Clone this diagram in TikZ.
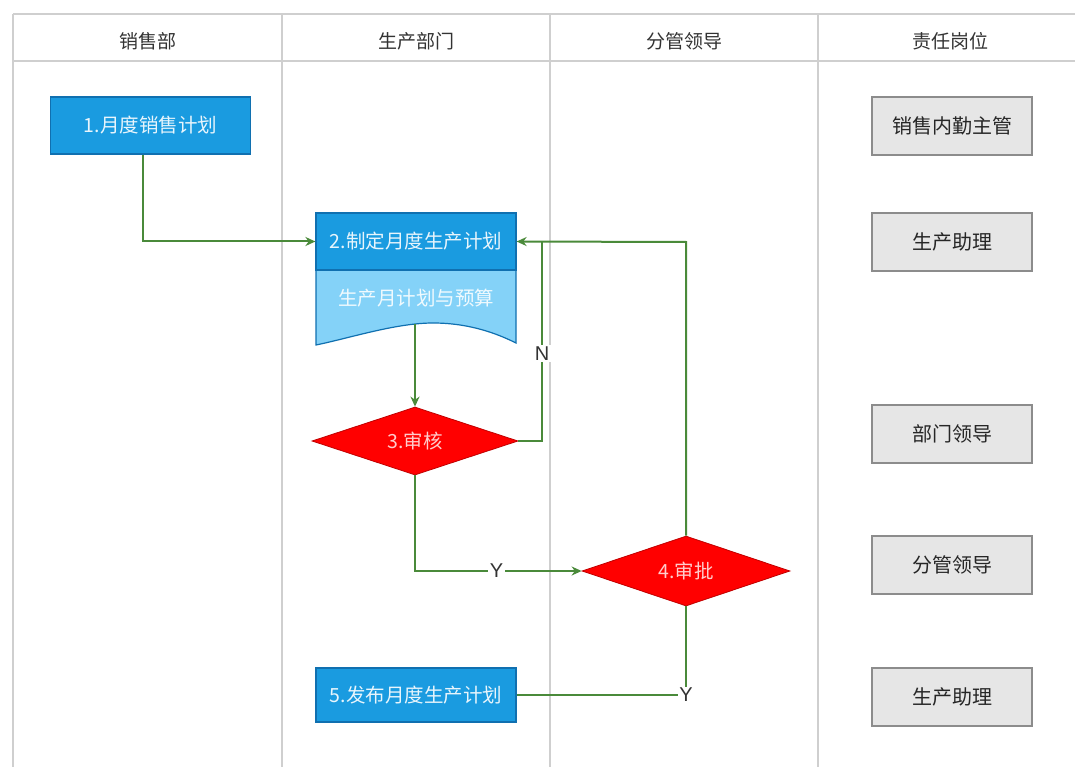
\documentclass[tikz,border=0pt]{standalone}
\usepackage{fontspec}
\setmainfont{Noto Sans CJK SC}
\newfontfamily\latinsans{Liberation Sans}
\usetikzlibrary{shapes.geometric,arrows.meta}
\definecolor{bluebox}{HTML}{1A9BE0}
\definecolor{blueedge}{HTML}{1070B0}
\definecolor{lightblue}{HTML}{84D2F8}
\definecolor{diamondred}{HTML}{FF0000}
\definecolor{diamondedge}{HTML}{C00000}
\definecolor{flowgreen}{HTML}{4A8A3A}
\definecolor{gridgray}{HTML}{CFCFCF}
\definecolor{grayfill}{HTML}{E6E6E6}
\definecolor{grayedge}{HTML}{8C8C8C}
\begin{document}
\begin{tikzpicture}[x=1pt,y=-1pt,
  grid/.style={draw=gridgray,line width=1.8pt},
  hdr/.style={font=\fontsize{19}{22}\selectfont,text=black!80},
  bluestep/.style={draw=blueedge,fill=bluebox,line width=1.2pt,text=white!90!bluebox,font=\fontsize{19.5}{22}\selectfont,inner sep=0pt},
  decision/.style={diamond,draw=diamondedge,fill=diamondred,line width=0.8pt,text=red!20,font=\fontsize{19.5}{22}\selectfont,inner sep=0pt,aspect=3},
  rolebox/.style={draw=grayedge,fill=grayfill,line width=1.4pt,text=black!85,font=\fontsize{20}{22}\selectfont,minimum width=160pt,minimum height=58pt,inner sep=0pt},
  flow/.style={draw=flowgreen,line width=2pt,-{Stealth[length=10pt,width=9pt]}},
  plainflow/.style={draw=flowgreen,line width=2pt},
  lbl/.style={fill=white,inner sep=1.5pt,font=\latinsans\fontsize{20}{22}\selectfont,text=black!80}
]
\useasboundingbox (0,0) rectangle (1075,767);
\fill[white] (0,0) rectangle (1075,767);
% table
\draw[grid] (13,14) -- (1075,14);
\draw[grid] (13,61) -- (1075,61);
\draw[grid] (13,14) -- (13,767);
\draw[grid] (282,14) -- (282,767);
\draw[grid] (550,14) -- (550,767);
\draw[grid] (818,14) -- (818,767);
\node[hdr] (h1) at (147.5,41) {销售部};
\node[hdr] (h2) at (416,41) {生产部门};
\node[hdr] (h3) at (684,41) {分管领导};
\node[hdr] (h4) at (950,41) {责任岗位};
% document shape
\filldraw[fill=lightblue,draw=blueedge,line width=1.2pt]
  (316,213) -- (516,213) -- (516,343)
  .. controls (498,334) and (470,323) .. (433,323)
  .. controls (396,323) and (350,338) .. (316,345) -- cycle;
\node[bluestep,minimum width=200pt,minimum height=57pt] (b1) at (150.5,125.5) {1.月度销售计划};
\node[bluestep,minimum width=200pt,minimum height=57pt] (b2) at (416,241.5) {2.制定月度生产计划};
\node[text=white!88!lightblue,font=\fontsize{19.5}{22}\selectfont] (b2doc) at (416,298) {生产月计划与预算};
\coordinate (docb) at (415,324);
\node[decision,minimum width=206pt,minimum height=68pt] (d3) at (415,441) {3.审核};
\node[decision,minimum width=208pt,minimum height=70pt] (d4) at (686,571) {4.审批};
\node[bluestep,minimum width=200pt,minimum height=54pt] (b5) at (416,695) {5.发布月度生产计划};
% role boxes
\node[rolebox] (r1) at (952,126) {销售内勤主管};
\node[rolebox] (r2) at (952,242) {生产助理};
\node[rolebox] (r3) at (952,434) {部门领导};
\node[rolebox] (r4) at (952,565) {分管领导};
\node[rolebox] (r5) at (952,697) {生产助理};
% connectors
\coordinate (njoin) at (542,242);
\coordinate (ajoin) at (686,242);
\draw[flow] ([xshift=-8pt]b1.south) |- (b2.west);
\draw[flow] (docb) -- (d3.north);
\draw[plainflow] (d3.east) -| node[pos=0.72,lbl]{N} (njoin);
\draw[flow] (d4.north) -- (ajoin) -- (b2.east);
\draw[flow] (d3.south) |- node[pos=0.745,lbl]{Y} (d4.west);
\draw[plainflow] (d4.south) |- node[pos=0.5,lbl]{Y} (b5.east);
\end{tikzpicture}
\end{document}
